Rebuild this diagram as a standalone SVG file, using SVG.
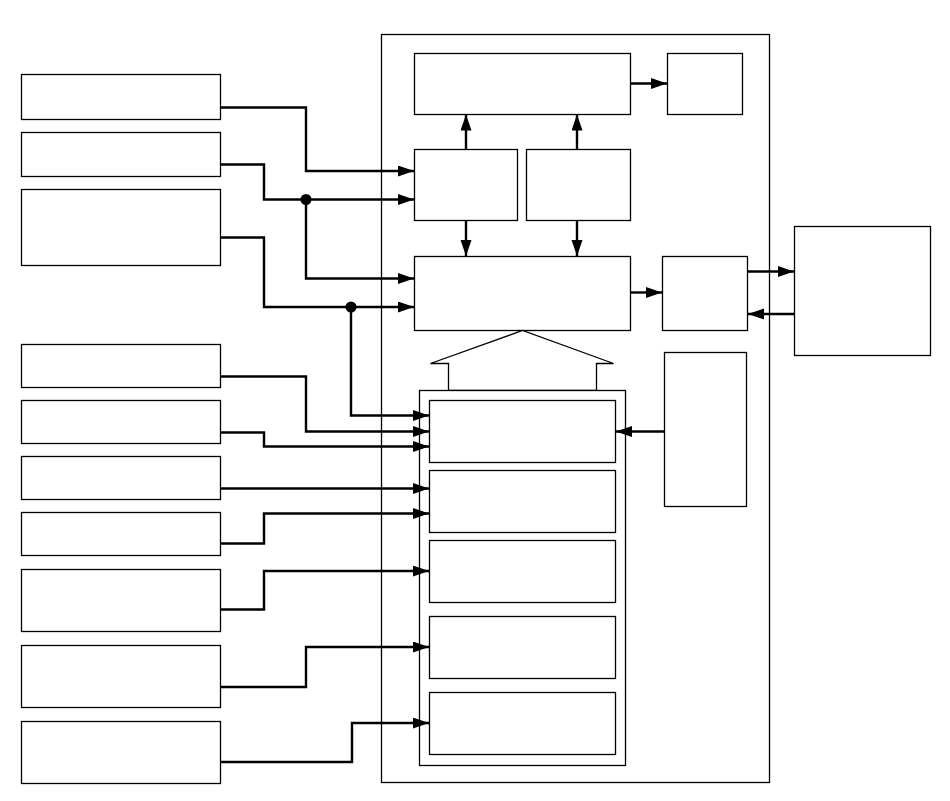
<svg xmlns="http://www.w3.org/2000/svg" width="950" height="801" viewBox="0 0 950 801">
<defs>
<style>
.box{fill:#fff;stroke:#000;stroke-width:1.3}
.frame{fill:none;stroke:#000;stroke-width:1.3}
.wire{fill:none;stroke:#000;stroke-width:2.4}
.dot{fill:#000}
</style>
<marker id="ah" markerUnits="userSpaceOnUse" markerWidth="17" markerHeight="12" refX="16" refY="5.5" orient="auto">
<path d="M0,0 L16,5.5 L0,11 z" fill="#000"/>
</marker>
</defs>
<rect width="950" height="801" fill="#fff"/>
<g id="frame"><rect class="frame" x="381.5" y="34.5" width="388" height="748"/></g>
<g id="in1"><rect class="box" x="21.5" y="74.5" width="199" height="45"/></g>
<g id="in2"><rect class="box" x="21.5" y="132.5" width="199" height="44"/></g>
<g id="in3"><rect class="box" x="21.5" y="189.5" width="199" height="76"/></g>
<g id="in4"><rect class="box" x="21.5" y="344.5" width="199" height="43"/></g>
<g id="in5"><rect class="box" x="21.5" y="400.5" width="199" height="43"/></g>
<g id="in6"><rect class="box" x="21.5" y="456.5" width="199" height="43"/></g>
<g id="in7"><rect class="box" x="21.5" y="512.5" width="199" height="43"/></g>
<g id="in8"><rect class="box" x="21.5" y="569.5" width="199" height="62"/></g>
<g id="in9"><rect class="box" x="21.5" y="645.5" width="199" height="62"/></g>
<g id="in10"><rect class="box" x="21.5" y="721.5" width="199" height="62"/></g>
<g id="A"><rect class="box" x="414.5" y="53.5" width="216" height="61"/></g>
<g id="B"><rect class="box" x="667.5" y="53.5" width="75" height="61"/></g>
<g id="C"><rect class="box" x="414.5" y="149.5" width="103" height="71"/></g>
<g id="D"><rect class="box" x="526.5" y="149.5" width="104" height="71"/></g>
<g id="E"><rect class="box" x="414.5" y="256.5" width="216" height="74"/></g>
<g id="F"><rect class="box" x="662.5" y="256.5" width="85" height="74"/></g>
<g id="G"><rect class="box" x="794.5" y="226.5" width="136" height="129"/></g>
<g id="I"><rect class="box" x="664.5" y="352.5" width="82" height="154"/></g>
<g id="bus"><polygon class="box" points="448.5,390.5 448.5,363.5 430.5,363.5 522.5,330.5 613.5,363.5 596.5,363.5 596.5,390.5"/></g>
<g id="H"><rect class="box" x="419.5" y="390.5" width="206" height="375"/></g>
<g id="H1"><rect class="box" x="429.5" y="400.5" width="186" height="62"/></g>
<g id="H2"><rect class="box" x="429.5" y="470.5" width="186" height="62"/></g>
<g id="H3"><rect class="box" x="429.5" y="540.5" width="186" height="62"/></g>
<g id="H4"><rect class="box" x="429.5" y="616.5" width="186" height="62"/></g>
<g id="H5"><rect class="box" x="429.5" y="692.5" width="186" height="62"/></g>
<g id="connectors">
<path class="wire" marker-end="url(#ah)" d="M220.5,107.5 H306 V171 H414"/>
<path class="wire" marker-end="url(#ah)" d="M220.5,164.5 H264 V199.5 H414"/>
<path class="wire" marker-end="url(#ah)" d="M306,199.5 V278.5 H414"/>
<path class="wire" marker-end="url(#ah)" d="M220.5,237.5 H264 V307 H414"/>
<path class="wire" marker-end="url(#ah)" d="M351,307 V415.5 H429"/>
<path class="wire" marker-end="url(#ah)" d="M220.5,376.5 H306 V431.5 H429"/>
<path class="wire" marker-end="url(#ah)" d="M220.5,432.5 H264 V446.5 H429"/>
<path class="wire" marker-end="url(#ah)" d="M220.5,488.5 H429"/>
<path class="wire" marker-end="url(#ah)" d="M220.5,543.5 H264 V513.5 H429"/>
<path class="wire" marker-end="url(#ah)" d="M220.5,609.5 H264 V571 H429"/>
<path class="wire" marker-end="url(#ah)" d="M220.5,687 H306 V647 H429"/>
<path class="wire" marker-end="url(#ah)" d="M220.5,762 H352 V723 H429"/>
<circle class="dot" cx="306" cy="199.5" r="5.5"/>
<circle class="dot" cx="351" cy="307" r="5.5"/>
<path class="wire" marker-end="url(#ah)" d="M630.5,83.5 H667"/>
<path class="wire" marker-end="url(#ah)" d="M466,149 V114.5"/>
<path class="wire" marker-end="url(#ah)" d="M577,149 V114.5"/>
<path class="wire" marker-end="url(#ah)" d="M466,220.5 V256"/>
<path class="wire" marker-end="url(#ah)" d="M577,220.5 V256"/>
<path class="wire" marker-end="url(#ah)" d="M630.5,292.5 H662"/>
<path class="wire" marker-end="url(#ah)" d="M747.5,271.5 H794"/>
<path class="wire" marker-end="url(#ah)" d="M794,314 H748"/>
<path class="wire" marker-end="url(#ah)" d="M664,431.5 H616"/>
</g>
</svg>
